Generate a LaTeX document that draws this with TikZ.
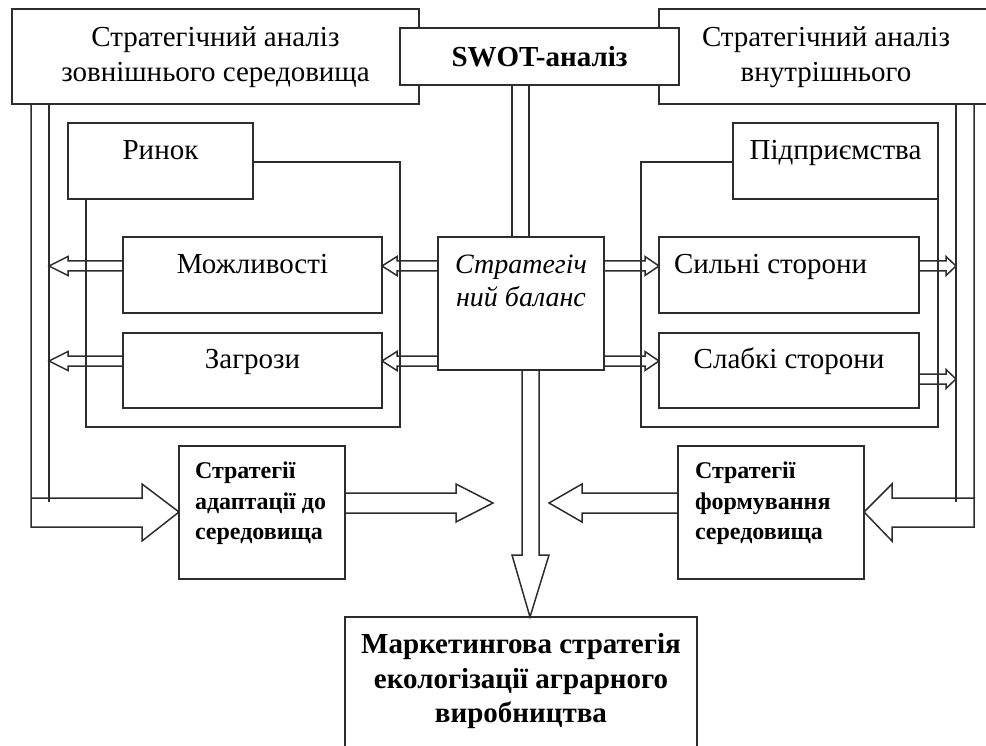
\documentclass[tikz,border=0pt]{standalone}
\usepackage{fontspec}
\setmainfont{Liberation Serif}
\usetikzlibrary{calc}
\definecolor{lc}{RGB}{45,45,45}
\newcommand\reg{\fontsize{29}{35.5}\selectfont}
\newcommand\bsmall{\fontsize{24}{30.5}\selectfont\bfseries}
\newcommand\bbig{\fontsize{29}{34.5}\selectfont\bfseries}
\newcommand\ital{\fontsize{28}{33}\selectfont\itshape}
% fixed-size box content: width, height, top space, text
\newcommand\bx[4]{\parbox[c][#2][t]{#1}{\vspace*{#3}#4}}
\newcommand\fatarrow[5]{%
  \draw[conn] let \p1=(#1), \p2=(#2), \n1={ifthenelse(\x2>\x1,1,-1)} in
  (\x1,{\y2+#3}) -- ({\x2-\n1*#5},{\y2+#3}) -- ({\x2-\n1*#5},{\y2+#4}) -- (\x2,\y2)
  -- ({\x2-\n1*#5},{\y2-#4}) -- ({\x2-\n1*#5},{\y2-#3}) -- (\x1,{\y2-#3});}
\tikzset{
  box/.style={draw=lc, line width=1.5pt, fill=white, inner sep=0pt, outer sep=0pt},
  conn/.style={draw=lc, line width=1.5pt, line join=miter}
}
\begin{document}
\begin{tikzpicture}[x=1pt,y=-1pt]
\useasboundingbox (0,0) rectangle (986,746);
\clip (0,0) rectangle (986,746);
% top boxes
\node[box] (ext) at (215.5,56.5) {\bx{407pt}{95pt}{12.5pt}{\centering\reg\strut Стратегічний аналіз\\ зовнішнього середовища}};
\node[box] (int) at (826,56.5) {\bx{334pt}{95pt}{12.5pt}{\centering\reg\strut Стратегічний аналіз\\ внутрішнього}};
\node[box] (swot) at (539.5,56.5) {\parbox[c][57pt][c]{279pt}{\centering\reg\bfseries SWOT-аналіз}};
% inner boxes
\node[box] (rinok) at (160.5,161) {\bx{185pt}{76pt}{11.5pt}{\centering\reg\strut Ринок}};
\node[box] (pidpr) at (835.5,161) {\bx{205pt}{76pt}{11.5pt}{\centering\reg\strut Підприємства}};
\node[box] (mozh) at (252.5,275) {\bx{259pt}{76pt}{11.5pt}{\centering\reg\strut Можливості}};
\node[box] (zagr) at (252.5,370.5) {\bx{259pt}{75pt}{10.5pt}{\centering\reg\strut Загрози}};
\node[box] (syl) at (789,275) {\bx{260pt}{76pt}{11.5pt}{\raggedright\leftskip15pt\reg\strut Сильні сторони}};
\node[box] (slab) at (789,370.5) {\bx{260pt}{75pt}{10.5pt}{\centering\reg\strut Слабкі сторони}};
\node[box] (bal) at (521,303.5) {\bx{166pt}{133pt}{13.5pt}{\centering\ital\strut Стратегіч\\ний баланс}};
\node[box] (adapt) at (262,512.5) {\bx{166pt}{133pt}{11.5pt}{\raggedright\leftskip16pt\bsmall\strut Стратегії\\ адаптації до\\ середовища}};
\node[box] (form) at (771,512.5) {\bx{186pt}{133pt}{11.5pt}{\raggedright\leftskip17pt\bsmall\strut Стратегії\\ формування\\ середовища}};
\node[box] (mark) at (521,687) {\bx{352pt}{140pt}{12.5pt}{\centering\bbig\strut Маркетингова стратегія\\ екологізації аграрного\\ виробництва}};
% market / enterprise frames
\draw[conn] (rinok.east |- 0,162) -- (400,162) -- (400,427) -- (86,427) -- (rinok.south -| 86,0);
\draw[conn] (pidpr.west |- 0,162) -- (641,162) -- (641,427) -- (938,427) -- (pidpr.south east);
% SWOT to balance
\draw[conn] (swot.south -| 512,0) -- (bal.north -| 512,0);
\draw[conn] (swot.south -| 529,0) -- (bal.north -| 529,0);
% balance down to final strategy
\draw[conn] (bal.south -| 522,0) -- (522,555) -- (512,555) -- (mark.north -| 530,0) -- (549,555) -- (539,555) -- (bal.south -| 539,0);
% left big arrow
\draw[conn] (ext.south -| 31,0) -- (31,527) -- (142,527) -- (142,541) -- (adapt.west |- 0,512) -- (142,484) -- (142,498) -- (31,498);
\draw[conn] (ext.south -| 49,0) -- (49,502);
% right big arrow
\draw[conn] (int.south -| 974,0) -- (974,527) -- (892,527) -- (892,541) -- (form.east |- 0,512) -- (892,484) -- (892,498) -- (975,498);
\draw[conn] (int.south -| 956,0) -- (956,502);
% tips
\coordinate (tML) at (49,266);
\coordinate (tZL) at (49,361);
\coordinate (tMR) at (382,266);
\coordinate (tZR) at (382,361);
\coordinate (tSL) at (659,266);
\coordinate (tWL) at (659,361);
\coordinate (tSR) at (956,266);
\coordinate (tWR) at (956,379);
\coordinate (tA) at (493,503);
\coordinate (tF) at (549,503);
\fatarrow{mozh.west}{tML}{5pt}{9.5pt}{19pt}
\fatarrow{zagr.west}{tZL}{5pt}{9.5pt}{19pt}
\fatarrow{bal.west}{tMR}{5pt}{9.5pt}{15pt}
\fatarrow{bal.west}{tZR}{5pt}{9.5pt}{15pt}
\fatarrow{bal.east}{tSL}{5pt}{9.5pt}{14pt}
\fatarrow{bal.east}{tWL}{5pt}{9.5pt}{14pt}
\fatarrow{syl.east}{tSR}{5pt}{9.5pt}{10pt}
\fatarrow{slab.east}{tWR}{5pt}{9.5pt}{10pt}
\fatarrow{adapt.east}{tA}{10pt}{19pt}{37pt}
\fatarrow{form.west}{tF}{10pt}{19pt}{33pt}
\end{tikzpicture}
\end{document}
